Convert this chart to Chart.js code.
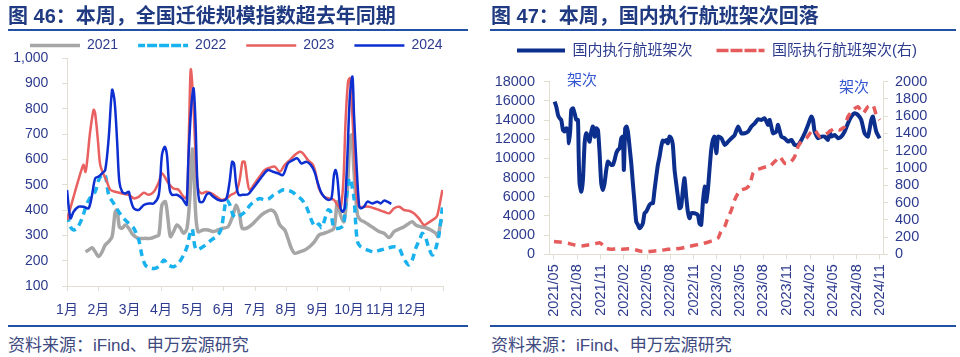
<!DOCTYPE html>
<html><head><meta charset="utf-8">
<script src="https://cdn.jsdelivr.net/npm/chart.js@4.4.1/dist/chart.umd.min.js"></script>
<style>
html,body{margin:0;padding:0;background:#fff;}
#wrap{position:relative;width:960px;height:357px;overflow:hidden;background:#fff;}
.t{position:absolute;font-family:"Liberation Sans","Noto Sans CJK SC",sans-serif;white-space:nowrap;}
.title{font-weight:bold;font-size:20px;line-height:20px;color:#1f3a80;top:6px;}
.rule{position:absolute;height:2px;background:#2450a4;}
.src{font-size:17px;line-height:17px;color:#3e4a80;top:337px;}
.ann{font-size:15px;line-height:15px;color:#3357d0;}
canvas{position:absolute;top:0;}
</style></head><body>
<div id="wrap">
 <canvas id="c1" width="480" height="326" style="left:0"></canvas>
 <canvas id="c2" width="480" height="326" style="left:480px"></canvas>
 <div class="t title" style="left:8px">图 46：本周，全国迁徙规模指数超去年同期</div>
 <div class="t title" style="left:491px">图 47：本周，国内执行航班架次回落</div>
 <div class="rule" style="left:8px;width:460px;top:29px"></div>
 <div class="rule" style="left:490px;width:466px;top:29px"></div>
 <div class="rule" style="left:8px;width:460px;top:325px"></div>
 <div class="rule" style="left:490px;width:466px;top:325px"></div>
 <div class="t src" style="left:8px">资料来源：iFind、申万宏源研究</div>
 <div class="t src" style="left:491px">资料来源：iFind、申万宏源研究</div>
 <div class="t ann" style="left:567px;top:72px">架次</div>
 <div class="t ann" style="left:839px;top:79px">架次</div>
</div>
<script>
// ---------- Figure 46: migration scale index (x in month units, 0 = Jan 1) ----------
const monthTicks = [0,1,2,3,4,5,6,7,8,9,10,11,12];
const monthLabels = ['1月','2月','3月','4月','5月','6月','7月','8月','9月','10月','11月','12月',''];
const indexTicks = [100,200,300,400,500,600,700,800,900,1000];

const m2021 = [0.59,0.69,0.80,0.90,1.01,1.12,1.22,1.33,1.44,1.54,1.60,1.67,1.76,1.86,1.97,2.07,2.18,2.29,2.50,2.66,2.82,2.93,3.03,3.14,3.22,3.30,3.40,3.51,3.62,3.72,3.83,3.92,4.00,4.05,4.10,4.18,4.34,4.50,4.66,4.82,4.98,5.14,5.30,5.40,5.51,5.59,5.73,5.89,6.04,6.20,6.36,6.52,6.65,6.79,6.95,7.05,7.16,7.27,7.43,7.59,7.74,7.90,8.04,8.20,8.36,8.52,8.63,8.73,8.84,8.95,9.03,9.09,9.16,9.27,9.37,9.48,9.64,9.80,9.96,10.12,10.28,10.44,10.60,10.76,10.91,11.02,11.13,11.29,11.45,11.61,11.77,11.84,11.93,11.98];
const v2021 = [235,242,251,235,216,235,262,275,295,393,400,334,328,341,328,308,295,288,288,288,295,301,420,433,367,295,315,341,328,308,328,450,640,560,400,315,321,321,315,321,328,334,380,420,380,328,328,341,360,380,393,400,387,341,321,288,249,229,235,242,255,275,301,308,315,328,433,380,354,486,683,696,551,380,360,354,341,328,315,308,291,315,325,334,347,354,341,334,330,321,308,295,354,360];

const m2022 = [0.00,0.11,0.21,0.32,0.48,0.64,0.80,0.90,1.01,1.12,1.22,1.33,1.49,1.65,1.81,1.97,2.13,2.29,2.39,2.50,2.66,2.82,2.98,3.09,3.24,3.40,3.56,3.72,3.83,3.94,4.00,4.12,4.40,4.61,4.82,4.93,5.02,5.09,5.20,5.30,5.40,5.55,5.70,5.85,6.00,6.15,6.30,6.45,6.60,6.75,6.90,7.05,7.20,7.35,7.50,7.65,7.80,7.92,8.04,8.12,8.18,8.33,8.41,8.52,8.68,8.82,8.89,9.00,9.05,9.16,9.21,9.27,9.37,9.59,9.80,10.01,10.22,10.44,10.60,10.70,10.81,10.91,11.02,11.13,11.27,11.34,11.45,11.55,11.66,11.77,11.87,11.98];
const v2022 = [380,334,321,328,367,426,460,472,518,538,538,460,426,393,367,347,328,282,222,183,170,170,183,203,183,176,190,222,255,315,325,245,260,282,301,330,400,440,420,380,370,380,395,420,435,445,440,445,460,470,480,478,470,455,440,410,360,335,345,330,345,400,395,330,328,340,420,525,520,446,354,275,255,242,235,242,249,255,249,222,196,183,203,249,288,308,288,249,222,249,301,410];

const m2023 = [0.00,0.16,0.32,0.48,0.53,0.59,0.64,0.74,0.85,0.90,0.99,1.06,1.17,1.28,1.38,1.54,1.76,1.97,2.13,2.29,2.45,2.61,2.77,2.93,3.03,3.24,3.40,3.56,3.67,3.78,3.84,3.90,3.95,4.02,4.10,4.18,4.29,4.45,4.61,4.77,4.93,5.09,5.24,5.40,5.51,5.60,5.67,5.76,5.83,5.99,6.15,6.31,6.47,6.63,6.79,6.95,7.11,7.27,7.43,7.53,7.69,7.85,7.96,8.04,8.20,8.36,8.52,8.63,8.73,8.82,8.89,8.97,9.03,9.09,9.16,9.24,9.32,9.48,9.64,9.80,9.96,10.12,10.28,10.44,10.60,10.76,10.91,11.07,11.23,11.39,11.50,11.66,11.80,11.87,11.98];
const v2023 = [360,430,500,565,578,550,590,710,795,780,670,578,540,510,480,472,465,460,446,452,468,460,472,510,545,505,485,480,460,446,470,750,955,854,630,486,466,472,466,453,440,446,460,472,518,590,590,512,479,505,532,558,567,571,551,578,597,617,630,624,597,578,532,486,453,446,440,420,407,512,749,907,920,815,643,460,413,413,413,407,400,393,387,407,413,400,397,387,367,341,347,360,374,407,479];

const m2024 = [0.00,0.11,0.21,0.37,0.53,0.69,0.80,0.90,1.01,1.12,1.22,1.33,1.44,1.52,1.60,1.67,1.76,1.86,1.97,2.02,2.13,2.29,2.45,2.61,2.77,2.93,3.03,3.12,3.19,3.27,3.35,3.51,3.67,3.78,3.82,3.88,3.97,4.04,4.10,4.16,4.23,4.34,4.45,4.55,4.66,4.82,4.98,5.09,5.19,5.27,5.33,5.40,5.48,5.61,5.78,5.94,6.10,6.26,6.41,6.57,6.73,6.89,7.05,7.21,7.35,7.48,7.64,7.78,7.90,7.99,8.10,8.20,8.33,8.44,8.52,8.57,8.63,8.71,8.79,8.86,8.95,9.03,9.11,9.16,9.24,9.32,9.37,9.48,9.59,9.74,9.90,10.01,10.12,10.22,10.35];
const v2024 = [479,367,393,413,413,407,460,525,532,545,558,683,874,828,670,512,472,465,472,446,407,400,420,426,426,460,617,650,617,485,460,460,446,426,420,617,815,880,749,512,433,433,460,466,453,440,437,446,512,590,584,499,460,460,462,486,512,538,558,551,545,538,584,597,604,584,590,578,551,512,472,453,440,446,538,558,525,420,393,407,617,854,926,775,578,420,407,413,433,426,433,426,437,433,424];

// ---------- Figure 47: flights (x in months since 2021/05) ----------
const flightTicks = [0,3,6,9,12,15,18,21,24,27,30,33,36,39,42];
const flightLabels = ['2021/05','2021/08','2021/11','2022/02','2022/05','2022/08','2022/11','2023/02','2023/05','2023/08','2023/11','2024/02','2024/05','2024/08','2024/11'];
const domTicks = [0,2000,4000,6000,8000,10000,12000,14000,16000,18000];
const intlTicks = [0,200,400,600,800,1000,1200,1400,1600,1800,2000];

const mDom = [0.09,0.30,0.52,0.73,0.94,1.16,1.37,1.59,1.80,1.93,2.10,2.23,2.45,2.66,2.88,3.09,3.18,3.30,3.52,3.73,3.95,4.16,4.38,4.59,4.81,5.02,5.24,5.45,5.67,5.88,6.09,6.31,6.52,6.74,6.95,7.17,7.38,7.60,7.81,8.03,8.24,8.46,8.67,8.88,9.01,9.18,9.36,9.53,9.74,9.96,10.17,10.39,10.60,10.82,11.03,11.24,11.46,11.67,11.89,12.10,12.32,12.53,12.75,12.96,13.18,13.39,13.61,13.82,14.03,14.25,14.46,14.68,14.89,15.11,15.32,15.54,15.75,15.97,16.18,16.39,16.61,16.82,17.04,17.25,17.47,17.68,18.11,18.54,18.75,18.97,19.18,19.40,19.61,19.83,20.04,20.26,20.47,20.69,20.93,21.15,21.58,22.01,22.44,22.87,23.29,23.72,24.15,24.58,25.01,25.44,25.87,26.30,26.72,27.15,27.58,27.80,28.23,28.66,28.87,29.30,29.73,30.16,30.59,31.02,31.45,31.88,32.31,32.74,33.16,33.38,33.59,34.02,34.45,34.88,35.31,35.52,35.74,36.17,36.60,37.02,37.45,37.88,38.31,38.74,39.17,39.60,40.03,40.46,40.89,41.10,41.53,41.96];
const vDom = [15925,15400,14530,14190,14010,12970,12800,13140,12970,11580,12970,15050,15230,14700,14010,14010,10540,7400,6540,7750,11580,12620,12270,11750,12800,13320,12270,13140,12970,10540,7400,6710,7400,8800,9670,9490,9320,9320,9840,10540,10880,11060,12100,12270,8800,13140,13320,12800,11230,9490,7400,5320,3410,3060,2710,2890,3230,4280,4450,4800,5150,5320,5320,6710,8100,9320,10190,11230,11860,11750,11930,11580,12270,12100,11400,8800,7400,6020,4800,4970,6710,7930,6020,4450,3760,4280,4280,4100,3230,3060,5320,7060,5490,6710,8800,10880,11930,12270,10540,12270,12100,11400,11750,12100,12450,13320,12620,12620,12800,13320,13660,14080,14010,14190,13490,14010,12620,12800,13490,12270,12100,11750,11930,11400,11400,11930,12620,13490,14360,14010,12800,12100,12270,12270,11930,12800,12270,12450,12100,12270,12800,13660,14360,14710,14530,14010,12620,12270,14010,14360,12800,12100];

const mIntl = [0.00,0.94,1.80,2.66,3.52,4.38,5.24,5.88,6.31,6.74,7.38,8.03,8.67,9.31,9.96,10.60,11.24,12.10,12.96,13.82,14.68,15.54,16.39,17.25,18.11,18.97,19.83,20.47,21.15,21.50,22.00,22.40,22.87,23.29,23.72,24.15,24.78,25.22,25.65,26.08,26.72,27.37,27.80,28.23,28.66,29.09,29.73,30.37,31.02,31.45,31.88,32.52,33.16,33.59,34.24,34.88,35.52,36.17,36.81,37.45,37.88,38.53,39.17,39.82,40.46,41.10,41.53,41.96];
const vIntl = [147,139,127,108,97,108,120,135,108,70,58,62,58,62,66,50,35,31,39,46,58,62,70,89,104,120,140,160,190,260,320,420,514,630,707,746,765,803,939,977,997,1016,1016,1055,1093,1132,1055,1055,1132,1248,1306,1344,1422,1441,1364,1383,1422,1460,1441,1480,1595,1673,1711,1634,1711,1731,1615,1557];

// ---------- rendering ----------
const FONT = '"Liberation Sans", Arial, "Noto Sans CJK SC", sans-serif';
Chart.defaults.font.family = FONT;
Chart.defaults.color = '#2d3b8e';
const AX = '#e2ded2';
const LBL = '#2d3b8e';
const pts = (xs, ys) => xs.map((x, i) => ({x: x, y: ys[i]}));
const bySet = (a, b) => a.datasetIndex - b.datasetIndex;
const setTicks = arr => (s => { s.ticks = arr.map(v => ({value: v})); });
const axisGrid = {drawOnChartArea: false, drawTicks: true, tickLength: 5, color: AX};
const axisBorder = {display: true, color: AX};

new Chart(document.getElementById('c1'), {
  type: 'line',
  data: {datasets: [
    {label: '2021', data: pts(m2021, v2021), borderColor: '#a6a6a6', backgroundColor: '#a6a6a6', borderWidth: 3.5, order: 4},
    {label: '2022', data: pts(m2022, v2022), borderColor: '#1ab2ee', backgroundColor: '#1ab2ee', borderWidth: 3.5, borderDash: [7, 5], order: 3},
    {label: '2023', data: pts(m2023, v2023), borderColor: '#e8605f', backgroundColor: '#e8605f', borderWidth: 2.5, order: 2},
    {label: '2024', data: pts(m2024, v2024), borderColor: '#0d2fd1', backgroundColor: '#0d2fd1', borderWidth: 2.5, order: 1}
  ]},
  options: {
    responsive: false, animation: false,
    layout: {padding: {left: 0, right: 7.5, top: 18.5, bottom: 0}},
    elements: {point: {radius: 0}, line: {tension: 0.3, fill: false}},
    plugins: {
      legend: {maxHeight: 39.5, labels: {boxWidth: 50, boxHeight: 0, padding: 20, font: {size: 14}, color: LBL, sort: bySet}},
      tooltip: {enabled: false}
    },
    scales: {
      x: {type: 'linear', min: 0, max: 12,
        afterBuildTicks: setTicks(monthTicks),
        afterFit: s => { s.height = 40; },
        ticks: {autoSkip: false, maxRotation: 0, minRotation: 0, padding: 10.6, font: {size: 14}, color: LBL,
          callback: (v, i) => monthLabels[i]},
        grid: axisGrid, border: axisBorder},
      y: {min: 100, max: 1000,
        afterBuildTicks: setTicks(indexTicks),
        afterFit: s => { s.width = 67; },
        ticks: {autoSkip: false, padding: 13.7, font: {size: 14}, color: LBL,
          callback: v => Number(v).toLocaleString('en-US')},
        grid: axisGrid, border: axisBorder},
      yPad: {position: 'right', min: 100, max: 1000,
        afterFit: s => { s.width = 29.5; },
        ticks: {display: false}, grid: {display: false}, border: {display: false}}
    }
  }
});

new Chart(document.getElementById('c2'), {
  type: 'line',
  data: {datasets: [
    {label: '国内执行航班架次', data: pts(mDom, vDom), yAxisID: 'y', borderColor: '#0c2f8e', backgroundColor: '#0c2f8e', borderWidth: 4, order: 2},
    {label: '国际执行航班架次(右)', data: pts(mIntl, vIntl), yAxisID: 'y1', borderColor: '#e65b5b', backgroundColor: '#e65b5b', borderWidth: 3.5, borderDash: [8, 6], order: 1}
  ]},
  options: {
    responsive: false, animation: false,
    layout: {padding: {left: 0, right: 6, top: 19, bottom: 0}},
    elements: {point: {radius: 0}, line: {tension: 0.2, fill: false}},
    plugins: {
      legend: {labels: {boxWidth: 48, boxHeight: 0, padding: 24, font: {size: 15}, color: LBL, sort: bySet}},
      title: {display: true, text: '', weight: 500, font: {size: 1, lineHeight: 1}, padding: {top: 0, bottom: 12.7}},
      tooltip: {enabled: false}
    },
    scales: {
      x: {type: 'linear', min: -0.64, max: 42.4,
        afterBuildTicks: setTicks(flightTicks),
        afterFit: s => { s.height = 71.7; },
        ticks: {autoSkip: false, minRotation: 90, maxRotation: 90, padding: 5, font: {size: 14.5}, color: LBL,
          callback: (v, i) => flightLabels[i]},
        grid: axisGrid, border: axisBorder},
      y: {position: 'left', min: 0, max: 18000,
        afterBuildTicks: setTicks(domTicks),
        afterFit: s => { s.width = 69; },
        ticks: {autoSkip: false, padding: 9, font: {size: 14.5}, color: LBL, callback: v => String(v)},
        grid: axisGrid, border: axisBorder},
      y1: {position: 'right', min: 0, max: 2000,
        afterBuildTicks: setTicks(intlTicks),
        afterFit: s => { s.width = 71; },
        ticks: {autoSkip: false, padding: 7, font: {size: 14.5}, color: LBL, callback: v => String(v)},
        grid: axisGrid, border: axisBorder}
    }
  }
});
</script>
</body></html>
